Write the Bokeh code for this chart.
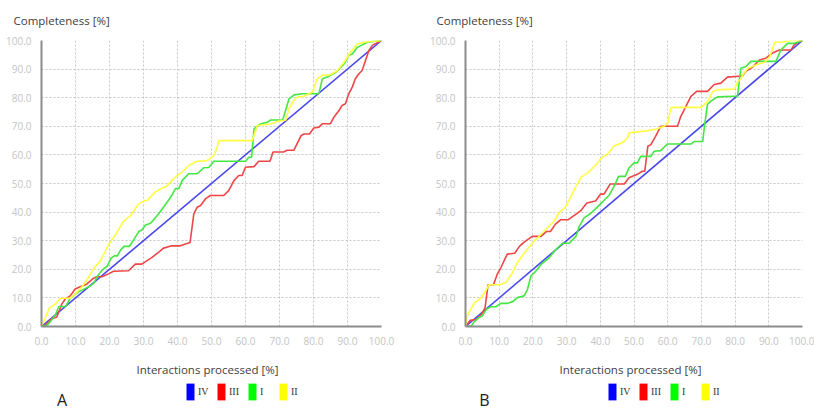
import numpy as np
from bokeh.plotting import figure
from bokeh.layouts import row, column
from bokeh.models import (Range1d, FixedTicker, PrintfTickFormatter, Label,
                          Legend, LegendItem)
from bokeh.embed import file_html
from bokeh.resources import INLINE

# ---------------- data: panel A ----------------
a_iv_x = [0, 100]
a_iv_y = [0, 100]

a_iii_x = [0, 1, 3, 4.5, 6, 7, 8.5, 9.9, 11.4, 13.3, 15.3, 16.3, 17.8, 19.7, 21.2,
           25.6, 27.6, 29.5, 32.4, 34.4, 35.9, 38.3, 40.8, 43.7, 44.8, 45.8, 46.8,
           48.2, 49.7, 53.6, 55.1, 56.6, 58, 59, 60, 62.5, 63.9, 67.2, 68.1, 71.2,
           72.2, 74.2, 76.4, 77.2, 78.8, 80.1, 81.6, 82.6, 85, 86, 87.5, 88.4, 89.4,
           90.4, 91.4, 92.3, 93.3, 94.3, 95.3, 96.3, 97.3, 100]
a_iii_y = [0, 0.3, 2.7, 3.3, 7.9, 9.6, 10.8, 13.1, 13.9, 14.8, 16.9, 17.4, 17.4,
           18.4, 19.3, 19.5, 21.8, 21.8, 24.1, 25.9, 27.4, 28.2, 28.2, 29.4, 39.4,
           41.7, 42.3, 44.6, 45.8, 45.8, 47.6, 51.0, 52.8, 52.8, 55.7, 55.9, 57.8,
           57.8, 61.0, 61.0, 61.6, 61.6, 66.8, 67.3, 67.3, 69.4, 69.7, 70.9, 70.9,
           73.2, 75.5, 77.3, 77.9, 81.4, 83.7, 86.6, 88.3, 89.5, 93.0, 96.5, 98.3, 100]

a_i_x = [0, 1.5, 2.6, 4.1, 5.1, 7.1, 8.5, 11, 14.4, 15.4, 16.4, 17.9, 19.4, 20.4,
         21.4, 22.3, 23.3, 24.3, 25.8, 26.8, 28.6, 29.6, 30.6, 32.1, 34.6, 37.1,
         38.4, 39.4, 40.4, 41.4, 43.3, 45.8, 47.7, 49.2, 50.7, 60, 61, 61.8, 62.5,
         64.4, 66.4, 67.4, 70.8, 71.3, 72.8, 74.3, 76.8, 81.6, 82.6, 84.1, 86.6,
         89, 90.4, 91.4, 92.9, 93.9, 95.9, 100]
a_i_y = [0, 0.3, 1.7, 4.1, 7.0, 7.0, 9.9, 12.2, 14.2, 15.2, 17.5, 19.8, 21.2, 23.8,
         24.7, 24.7, 26.8, 28.0, 28.0, 29.7, 33.2, 33.8, 35.5, 36.1, 39.6, 43.7,
         46.0, 48.2, 48.3, 51.1, 53.4, 53.4, 55.5, 55.6, 57.8, 57.8, 59.2, 59.2,
         69.1, 70.8, 71.4, 72.2, 72.2, 73.5, 79.6, 81.0, 81.4, 81.4, 86.6, 87.2,
         88.9, 91.8, 94.8, 95.3, 97.6, 98.2, 99.4, 100]

a_ii_x = [0, 2.3, 4.1, 5.6, 8.5, 10, 12, 14, 15.5, 17.4, 19.7, 22, 24.1, 26.2, 28.5,
          30.3, 31.1, 33.4, 35, 36.8, 38.3, 39.9, 41.4, 43.3, 45.8, 48.7, 50.7,
          51.5, 52.2, 62, 63.5, 67.4, 70.3, 71.8, 72.8, 74.3, 75.3, 77.2, 79.7,
          81.1, 82.6, 85, 87, 89, 90.9, 92.9, 94.8, 100]
a_ii_y = [0, 6.4, 7.9, 9.9, 9.9, 11.5, 14.0, 17.5, 20.5, 23.1, 28.5, 32.5, 36.8,
          38.8, 42.8, 44.0, 44.1, 47.0, 48.1, 49.0, 51.0, 52.8, 54.0, 56.3, 57.8,
          58.0, 59.8, 62.0, 65.0, 65.0, 70.3, 70.8, 72.0, 72.1, 76.2, 79.1, 80.2,
          80.5, 82.0, 86.6, 87.8, 88.0, 89.5, 92.4, 95.9, 98.8, 99.4, 100]

# ---------------- data: panel B ----------------
b_iv_x = [0, 100]
b_iv_y = [0, 100]

b_iii_x = [0, 1.4, 3.1, 4.7, 5.8, 6.7, 8.3, 9.4, 10.6, 11.6, 12.4, 14.6, 16, 17.4,
           19.8, 22.4, 24, 25.2, 26.7, 28.2, 30.4, 32.6, 34.2, 36, 38.6, 40.1, 41.1,
           42.9, 47.1, 48.5, 51, 52.5, 53.2, 54.1, 55, 56.4, 57.9, 62.9, 63.9, 65.4,
           66.9, 68.6, 71.8, 73.8, 75.8, 77.7, 82.2, 83.2, 85.2, 87.2, 89.1, 91.1,
           93.1, 96.6, 97.5, 99.5, 100]
b_iii_y = [0, 2.2, 2.4, 4.2, 6.5, 14.6, 14.6, 18.2, 20.8, 23.4, 25.3, 25.6, 28.0,
           29.5, 31.5, 31.5, 33.2, 33.2, 35.8, 37.3, 37.3, 39.1, 40.5, 43.2, 43.9,
           46.3, 46.3, 49.8, 49.8, 52.0, 53.2, 54.3, 54.3, 63.0, 63.6, 66.5, 70.0,
           70.0, 73.5, 77.0, 80.5, 82.2, 82.2, 84.6, 85.1, 87.2, 87.6, 89.2, 90.7,
           93.2, 93.8, 95.6, 96.7, 96.7, 98.5, 100, 100]

b_i_x = [0, 1.7, 2.7, 4.1, 5.0, 6.2, 7.5, 9.0, 10.5, 12.5, 14, 15.4, 17.4, 18.4,
         19.4, 20.9, 22.4, 24.8, 26.8, 28.8, 30.8, 32.8, 33.8, 35.2, 37.2, 38.7,
         40.7, 42.7, 44.3, 45.4, 47.4, 48.5, 50, 51, 52, 55, 56, 57.9, 59.9, 66.9,
         67.9, 70.4, 70.9, 71.8, 72.8, 74.8, 79.7, 80.7, 81.7, 83.2, 84.7, 92.1,
         93.6, 95.6, 97.6, 100]
b_i_y = [0, 0.2, 1.8, 3.2, 3.7, 6.0, 6.9, 6.9, 8.1, 8.1, 8.7, 10.1, 10.7, 13.0,
         17.6, 19.4, 21.7, 24.0, 26.9, 29.1, 29.1, 31.6, 35.1, 38.0, 39.6, 41.3,
         43.6, 46.0, 49.5, 52.5, 52.5, 55.4, 57.2, 57.2, 59.5, 59.5, 61.3, 61.5,
         63.8, 63.8, 64.7, 64.7, 70.0, 77.6, 78.8, 80.3, 80.5, 80.5, 90.3, 90.9,
         92.7, 92.7, 96.7, 99.0, 99.0, 100]

b_ii_x = [0, 0.6, 2.6, 4.6, 6.0, 7.0, 10.0, 12.0, 14.0, 15.4, 17.9, 20.4, 23.4,
          26.3, 28.0, 29.6, 30.8, 32.7, 34.4, 36.4, 38.6, 40.6, 42.1, 44.1, 46.6,
          48.1, 48.6, 53.1, 56.1, 59, 60, 61, 69.9, 71.9, 73.4, 74.9, 79.8, 80.8,
          81.8, 82.3, 83.8, 86.8, 88.8, 90.3, 91.8, 93.8, 96.8, 100]
b_ii_y = [0, 4.0, 8.2, 10.0, 12.5, 14.6, 14.6, 15.4, 18.9, 22.4, 26.4, 29.9, 33.4,
          36.9, 40.2, 41.6, 44.4, 48.8, 52.3, 53.8, 56.4, 59.3, 60.2, 63.1, 64.3,
          66.0, 67.7, 68.3, 68.9, 70.0, 71.2, 76.6, 76.6, 78.7, 82.2, 82.8, 83.0,
          85.7, 86.6, 88.0, 90.3, 91.7, 92.4, 94.4, 99.4, 99.4, 100, 100]

series_names = ["IV", "III", "I", "II"]
line_colors = ["#4848ee", "#ee4646", "#44e644", "#ffff44"]
swatch_colors = ["#0000ff", "#ff0000", "#00ff00", "#ffff00"]
tick_values = [0, 10, 20, 30, 40, 50, 60, 70, 80, 90, 100]
y_title = "Completeness [%]"
x_title = "Interactions processed [%]"

FONT = "Open Sans"
TEXT_COLOR = "#404040"
PANEL_W = 407
HEAD_H = 30
PLOT_H = 320
FOOT_H = 411 - HEAD_H - PLOT_H


def blank_strip(height):
    f = figure(width=PANEL_W, height=height, output_backend="svg",
               toolbar_location=None, x_axis_location=None, y_axis_location=None,
               x_range=Range1d(0, PANEL_W), y_range=Range1d(0, height),
               min_border=0)
    f.outline_line_color = None
    f.grid.visible = False
    return f


def make_header(title_x):
    h = blank_strip(HEAD_H)
    h.add_layout(Label(x=title_x, y=10, x_units="screen", y_units="screen",
                       text=y_title, text_font=FONT, text_font_size="11.5px",
                       text_color=TEXT_COLOR, text_baseline="middle"))
    return h


def make_panel(series, left, right, top):
    p = figure(width=PANEL_W, height=PLOT_H, output_backend="svg",
               toolbar_location=None,
               x_range=Range1d(0, 100), y_range=Range1d(0, 100),
               min_border_left=left, min_border_right=right,
               min_border_top=top, min_border_bottom=24)
    p.outline_line_color = None

    for ax in (p.xaxis[0], p.yaxis[0]):
        ax.ticker = FixedTicker(ticks=tick_values)
        ax.formatter = PrintfTickFormatter(format="%.1f")
        ax.major_tick_line_color = None
        ax.minor_tick_line_color = None
        ax.axis_line_color = "#8c8c8c"
        ax.axis_line_width = 2
        ax.major_label_text_font = FONT
        ax.major_label_text_font_size = "10px"
        ax.major_label_text_color = "#c4c4c4"
    p.xaxis.major_label_standoff = 4
    p.yaxis.major_label_standoff = 4

    for g in (p.xgrid[0], p.ygrid[0]):
        g.ticker = FixedTicker(ticks=tick_values)
        g.grid_line_color = "#c6c6c6"
        g.grid_line_dash = "2 2"
        g.grid_line_width = 1

    for (xs, ys), c in zip(series, line_colors):
        p.line(xs, ys, line_color=c, line_width=1.6)
    return p


def make_footer(letter, letter_x, legend_x, xtitle_x):
    f = blank_strip(FOOT_H)

    # swatch-only renderers: one undefined point each, so only the legend shows them
    items = []
    for name, c in zip(series_names, swatch_colors):
        r = f.rect(x=np.array([np.nan]), y=np.array([np.nan]), width=1, height=1,
                   fill_color=c, line_color=None)
        items.append(LegendItem(label=name, renderers=[r]))
    legend = Legend(items=items, orientation="horizontal",
                    location=(legend_x, 9),
                    glyph_width=10, glyph_height=21, label_standoff=3,
                    label_width=14, spacing=4, padding=0, margin=0,
                    border_line_color=None, background_fill_alpha=0,
                    label_text_font="Liberation Serif",
                    label_text_font_size="10px", label_text_color="#333333")
    f.add_layout(legend, "center")

    f.add_layout(Label(x=xtitle_x, y=42, x_units="screen", y_units="screen",
                       text=x_title, text_font=FONT, text_font_size="11.5px",
                       text_color=TEXT_COLOR, text_align="center",
                       text_baseline="middle"))
    f.add_layout(Label(x=letter_x, y=12, x_units="screen", y_units="screen",
                       text=letter, text_font=FONT, text_font_size="16px",
                       text_color="#222222", text_align="center",
                       text_baseline="middle"))
    return f


hA = make_header(13)
hB = make_header(29)
pA = make_panel([(a_iv_x, a_iv_y), (a_iii_x, a_iii_y), (a_i_x, a_i_y), (a_ii_x, a_ii_y)],
                left=41, right=26, top=10)
pB = make_panel([(b_iv_x, b_iv_y), (b_iii_x, b_iii_y), (b_i_x, b_i_y), (b_ii_x, b_ii_y)],
                left=58, right=12, top=9)
fA = make_footer("A", 61.5, 185, 207)
fB = make_footer("B", 77, 200, 223)

layout = column(row(hA, hB), row(pA, pB), row(fA, fB))
open("out.html", "w").write(file_html(layout, INLINE))
